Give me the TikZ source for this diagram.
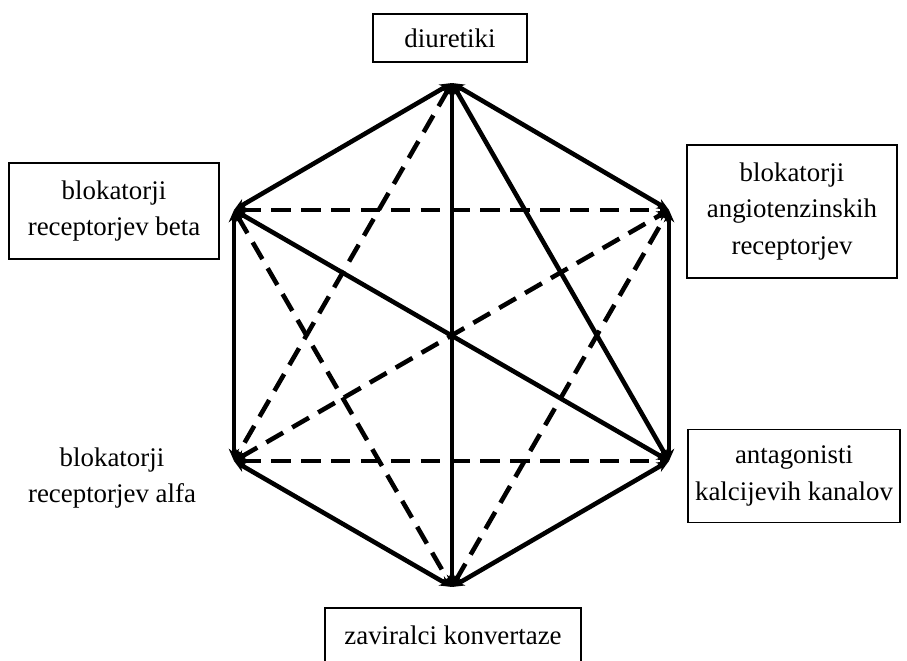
\documentclass[tikz,border=0pt]{standalone}
\usepackage{fontspec}
\setmainfont{Liberation Serif}
\usetikzlibrary{arrows.meta}
\begin{document}
\begin{tikzpicture}[x=0.02cm,y=-0.02cm,
  lbl/.style={align=center,inner sep=0pt,font=\fontsize{15.3}{20.6}\selectfont},
  box/.style={lbl,draw,line width=1pt},
  link/.style={line width=2.6pt,{Stealth[length=7pt,width=6pt]}-{Stealth[length=7pt,width=6pt]}},
  dlink/.style={link,dash pattern=on 11pt off 6pt}]
  \useasboundingbox (0,0) rectangle (907,660);
  \coordinate (t) at (452,83);
  \coordinate (ul) at (234,210);
  \coordinate (ur) at (669,210);
  \coordinate (ll) at (234,461);
  \coordinate (lr) at (669,461);
  \coordinate (b) at (452,587);
  \node[box,minimum width=3.08cm,minimum height=0.96cm] (diu) at (450,38) {diuretiki};
  \node[box,minimum width=4.2cm,minimum height=1.92cm] (beta) at (114,211) {blokatorji\\receptorjev beta};
  \node[box,minimum width=4.2cm,minimum height=2.66cm] (ang) at (792,211.5) {blokatorji\\angiotenzinskih\\receptorjev};
  \node[box,minimum width=4.24cm,minimum height=1.86cm] (kal) at (794,476) {antagonisti\\kalcijevih kanalov};
  \node[box,minimum width=5.12cm,minimum height=1.08cm] (zav) at (453,635) {zaviralci konvertaze};
  \node[lbl] (alfa) at (112,478) {blokatorji\\receptorjev alfa};
  \draw[link] (t) -- (ur);
  \draw[link] (ur) -- (lr);
  \draw[link] (lr) -- (b);
  \draw[link] (b) -- (ll);
  \draw[link] (ll) -- (ul);
  \draw[link] (ul) -- (t);
  \draw[link] (t) -- (b);
  \draw[link] (t) -- (lr);
  \draw[link] (ul) -- (lr);
  \draw[dlink] (ul) -- (ur);
  \draw[dlink] (ll) -- (lr);
  \draw[dlink] (t) -- (ll);
  \draw[dlink] (ul) -- (b);
  \draw[dlink] (ll) -- (ur);
  \draw[dlink] (b) -- (ur);
\end{tikzpicture}
\end{document}
